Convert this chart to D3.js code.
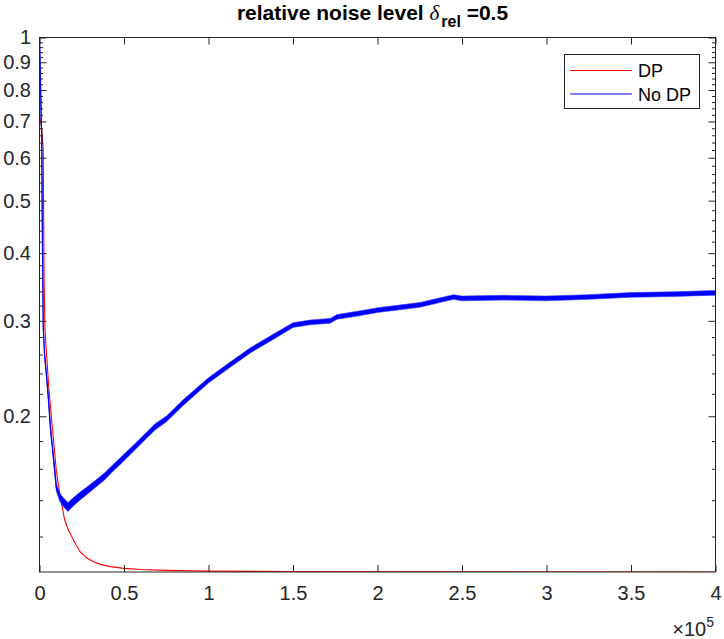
<!DOCTYPE html>
<html>
<head>
<meta charset="utf-8">
<script src="https://cdn.jsdelivr.net/npm/d3@7"></script>
<style>
  html, body { margin: 0; padding: 0; background: #fff; }
  svg { display: block; font-family: "Liberation Sans", Arial, Helvetica, sans-serif; }
</style>
</head>
<body>
<svg id="chart" width="724" height="639"></svg>
<script>
// ---- data (iteration, relative error) ----
const dpX   = [0, 1300, 2200, 2700, 3250, 4400, 5500, 7000, 8500, 9940, 11950, 14900, 17000, 19000, 21500, 24000, 28000, 32000, 36000, 42000, 50000, 60000, 75000, 100000, 150000, 250000, 400000];
const dpY   = [0.72, 0.68, 0.62, 0.36, 0.29, 0.254, 0.226, 0.200, 0.178, 0.159, 0.144, 0.1287, 0.1235, 0.120, 0.116, 0.1125, 0.1095, 0.1078, 0.1066, 0.1056, 0.1048, 0.1043, 0.1039, 0.1036, 0.1034, 0.1033, 0.1032];

const noDpX = [0, 500, 1300, 1800, 2250, 3000, 3850, 5030, 6500, 7990, 9940, 11950, 13900, 16860, 20000, 24000, 28700, 33000, 38600, 43000, 48400, 58300, 68200, 75300, 85000, 100000, 112000, 125000, 138000, 150000, 160000, 172000, 176000, 190000, 200000, 225000, 245000, 250000, 275000, 300000, 325000, 350000, 375000, 400000];
const noDpY = [1.0, 0.85, 0.65, 0.40, 0.29, 0.26, 0.243, 0.2205, 0.19, 0.171, 0.148, 0.142, 0.139, 0.136, 0.139, 0.1425, 0.1463, 0.150, 0.155, 0.160, 0.166, 0.178, 0.191, 0.198, 0.212, 0.233, 0.248, 0.265, 0.280, 0.2947, 0.298, 0.300, 0.305, 0.310, 0.314, 0.321, 0.332, 0.330, 0.331, 0.330, 0.332, 0.335, 0.336, 0.338];
// relative half-width of the noisy band of the No DP curve at each point
const noDpSpread = [0, 0, 0, 0, 0, 0.003, 0.006, 0.009, 0.012, 0.014, 0.016, 0.018, 0.019, 0.019, 0.018, 0.017, 0.016, 0.015, 0.015, 0.014, 0.014, 0.013, 0.013, 0.012, 0.012, 0.011, 0.011, 0.011, 0.011, 0.01, 0.01, 0.01, 0.01, 0.01, 0.01, 0.01, 0.01, 0.01, 0.01, 0.01, 0.01, 0.01, 0.01, 0.01];

const xTicks      = [0, 50000, 100000, 150000, 200000, 250000, 300000, 350000, 400000];
const xTickLabels = ["0", "0.5", "1", "1.5", "2", "2.5", "3", "3.5", "4"];
const yTicks      = [0.2, 0.3, 0.4, 0.5, 0.6, 0.7, 0.8, 0.9, 1];
const yTickLabels = ["0.2", "0.3", "0.4", "0.5", "0.6", "0.7", "0.8", "0.9", "1"];
const yMinorTicks = [0.12, 0.14, 0.16, 0.18, 0.22, 0.24, 0.26, 0.28, 0.32, 0.34, 0.36, 0.38, 0.42, 0.44, 0.46, 0.48, 0.52, 0.54, 0.56, 0.58, 0.62, 0.64, 0.66, 0.68, 0.72, 0.74, 0.76, 0.78, 0.82, 0.84, 0.86, 0.88, 0.92, 0.94, 0.96, 0.98];
const seriesNames = ["DP", "No DP"];
const xDomain = [0, 400000];
const yDomain = [0.1032, 1];

// ---- layout ----
const L = 39.5, R = 715.5, T = 37.5, B = 572;
const axisColor = "#262626";
const svg = d3.select("#chart");

const x = d3.scaleLinear().domain(xDomain).range([L, R]);
const y = d3.scaleLog().domain(yDomain).range([B, T]);

svg.append("clipPath").attr("id", "clip")
  .append("rect").attr("x", L).attr("y", T).attr("width", R - L).attr("height", B - T);

const plot = svg.append("g").attr("clip-path", "url(#clip)");

// DP (red) drawn first
const dpData = dpX.map((d, i) => [d, dpY[i]]);
plot.append("path")
  .datum(dpData)
  .attr("fill", "none")
  .attr("stroke", "#ff0000")
  .attr("stroke-width", 1.1)
  .attr("d", d3.line().x(d => x(d[0])).y(d => y(d[1])));

// No DP (blue) with noise band
const noDpData = noDpX.map((d, i) => ({ x: d, v: noDpY[i], s: noDpSpread[i] }));
plot.append("path")
  .datum(noDpData)
  .attr("fill", "#0000ff")
  .attr("stroke", "#3333ff")
  .attr("stroke-opacity", 0.6)
  .attr("stroke-width", 1)
  .attr("d", d3.area()
    .x(d => x(d.x))
    .y0(d => y(d.v / (1 + d.s)))
    .y1(d => y(d.v * (1 + d.s))));
plot.append("path")
  .datum(noDpData)
  .attr("fill", "none")
  .attr("stroke", "#0000ff")
  .attr("stroke-width", 1.2)
  .attr("d", d3.line().x(d => x(d.x)).y(d => y(d.v)));

// ---- axes ----
function styleAxis(g) {
  g.select(".domain").remove();
  g.selectAll(".tick line").attr("stroke", axisColor).attr("stroke-width", 1);
  g.selectAll(".tick text").attr("fill", axisColor).attr("font-size", 20)
    .attr("font-family", "'Liberation Sans', Arial, Helvetica, sans-serif");
}

svg.append("g").attr("transform", `translate(0,${B})`)
  .call(d3.axisBottom(x).tickValues(xTicks).tickFormat((d, i) => xTickLabels[i])
    .tickSizeInner(-7).tickSizeOuter(0).tickPadding(14))
  .call(styleAxis);
svg.append("g").attr("transform", `translate(0,${T})`)
  .call(d3.axisTop(x).tickValues(xTicks).tickFormat("").tickSizeInner(-7).tickSizeOuter(0))
  .call(styleAxis);

svg.append("g").attr("transform", `translate(${L},0)`)
  .call(d3.axisLeft(y).tickValues(yTicks).tickFormat((d, i) => yTickLabels[i])
    .tickSizeInner(-7).tickSizeOuter(0).tickPadding(8.5))
  .call(styleAxis);
svg.append("g").attr("transform", `translate(${L},0)`)
  .call(d3.axisLeft(y).tickValues(yMinorTicks).tickFormat("").tickSizeInner(-3.5).tickSizeOuter(0))
  .call(styleAxis);
svg.append("g").attr("transform", `translate(${R},0)`)
  .call(d3.axisRight(y).tickValues(yTicks).tickFormat("").tickSizeInner(-7).tickSizeOuter(0))
  .call(styleAxis);
svg.append("g").attr("transform", `translate(${R},0)`)
  .call(d3.axisRight(y).tickValues(yMinorTicks).tickFormat("").tickSizeInner(-3.5).tickSizeOuter(0))
  .call(styleAxis);

// box
svg.append("rect").attr("x", L).attr("y", T).attr("width", R - L).attr("height", B - T)
  .attr("fill", "none").attr("stroke", axisColor).attr("stroke-width", 1);

// exponent label
const ex = svg.append("text").attr("x", 714).attr("y", 636).attr("text-anchor", "end")
  .attr("fill", axisColor).attr("font-size", 20);
ex.append("tspan").text("×10");
ex.append("tspan").attr("font-size", 14).attr("dy", -9).text("5");

// title
const title = svg.append("text").attr("x", 372.5).attr("y", 20).attr("text-anchor", "middle")
  .attr("fill", "#000").attr("font-weight", "bold").attr("font-size", 21);
title.append("tspan").text("relative noise level ");
title.append("tspan").attr("font-family", "'Liberation Serif', 'DejaVu Serif', serif")
  .attr("font-style", "italic").attr("font-weight", "normal").attr("font-size", 21).text("δ");
title.append("tspan").attr("font-size", 16).attr("dy", 7).attr("dx", 2).text("rel");
title.append("tspan").attr("dy", -7).text(" =0.5");

// legend
const leg = svg.append("g");
leg.append("rect").attr("x", 564.5).attr("y", 54.5).attr("width", 135).attr("height", 54)
  .attr("fill", "#fff").attr("stroke", axisColor).attr("stroke-width", 1);
const legColors = ["#ff0000", "#0000ff"];
const legY = [70.5, 94];
seriesNames.forEach((name, i) => {
  leg.append("line").attr("x1", 570).attr("x2", 632).attr("y1", legY[i]).attr("y2", legY[i])
    .attr("stroke", legColors[i]).attr("stroke-width", 1.2);
  leg.append("text").attr("x", 638).attr("y", legY[i] + 6.5).attr("font-size", 18)
    .attr("fill", "#000").text(name);
});
</script>
</body>
</html>
